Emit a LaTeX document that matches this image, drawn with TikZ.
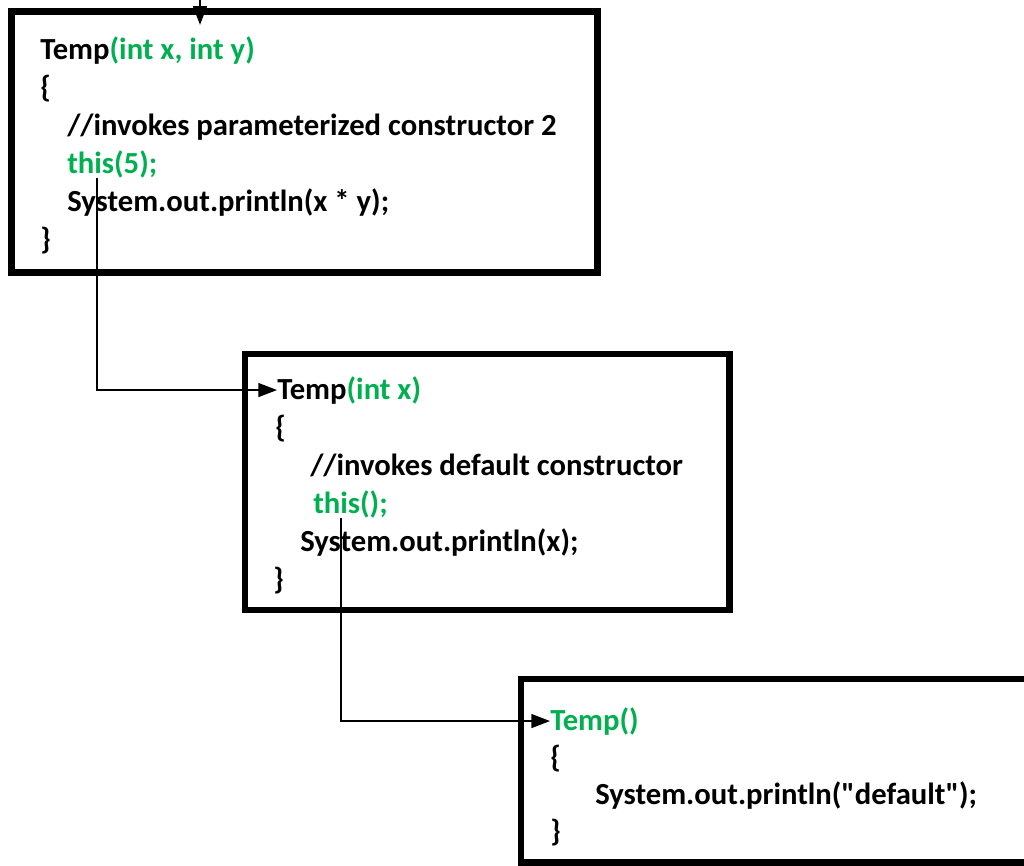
\documentclass[tikz,border=0pt]{standalone}
\usepackage{fontspec}
\setmainfont{Carlito}
\usetikzlibrary{positioning,arrows.meta}
\definecolor{codegreen}{RGB}{0,176,80}

\begin{document}
\begin{tikzpicture}[x=0.75pt, y=-0.75pt, node distance={28.5pt},
  code/.style = {anchor=base west, inner sep=0pt, font=\fontsize{23}{27}\selectfont\bfseries},
  box/.style = {draw, line width=5.2pt, inner sep=0pt, outer sep=0pt, anchor=north west},
  flow/.style = {-{Triangle[length=14pt, width=10.5pt]}, line width=1pt}]
\useasboundingbox (0,0) rectangle (1024,865);
\clip (0,0) rectangle (1024,865);
% frames
\node[box, minimum width=439.5pt, minimum height=195.5pt] (box1) at (11.5,11.5) {};
\node[box, minimum width=363.5pt, minimum height=192pt] (box2) at (245,354) {};
\node[box, minimum width=390pt, minimum height=137.5pt] (box3) at (521,679) {};
% Temp(int x, int y)
\node[code] (a1) at (40,59) {Temp\textcolor{codegreen}{(int x, int y)}};
\node[code] (a2) [below=of a1.base west, anchor=base west] {\{};
\node[code] (a3) [below=of a2.base west, anchor=base west, xshift=20.25pt] {//invokes parameterized constructor 2};
\node[code] (a4) [below=of a3.base west, anchor=base west] {\textcolor{codegreen}{this(5);}};
\node[code] (a5) [below=of a4.base west, anchor=base west] {System.out.println(x * y);};
\node[code] (a6) [below=of a5.base west, anchor=base west, xshift=-20.25pt] {\}};
% Temp(int x)
\node[code] (b1) at (277,399) {Temp\textcolor{codegreen}{(int x)}};
\node[code] (b2) [below=of b1.base west, anchor=base west, xshift=-1.5pt] {\{};
\node[code] (b3) [below=of b2.base west, anchor=base west, xshift=26.25pt] {//invokes default constructor};
\node[code] (b4) [below=of b3.base west, anchor=base west, xshift=2.25pt] {\textcolor{codegreen}{this();}};
\node[code] (b5) [below=of b4.base west, anchor=base west, xshift=-9.75pt] {System.out.println(x);};
\node[code] (b6) [below=of b5.base west, anchor=base west, xshift=-20.25pt] {\}};
% Temp()
\node[code] (c1) at (550,730) {\textcolor{codegreen}{Temp()}};
\node[code] (c2) [below=27.75pt of c1.base west, anchor=base west] {\{};
\node[code] (c3) [below=27.75pt of c2.base west, anchor=base west, xshift=33.75pt] {System.out.println(\textquotedbl default\textquotedbl);};
\node[code] (c4) [below=27.75pt of c3.base west, anchor=base west, xshift=-33.75pt] {\}};
% calls
\coordinate (entry) at (200,0);
\draw[flow] (entry) -- ([yshift=-10pt]entry |- box1.north);
\draw[flow] ([xshift=22.5pt]a4.south west) |- (b1);
\draw[flow] ([xshift=21pt]b4.south west) |- (c1);
\end{tikzpicture}
\end{document}
